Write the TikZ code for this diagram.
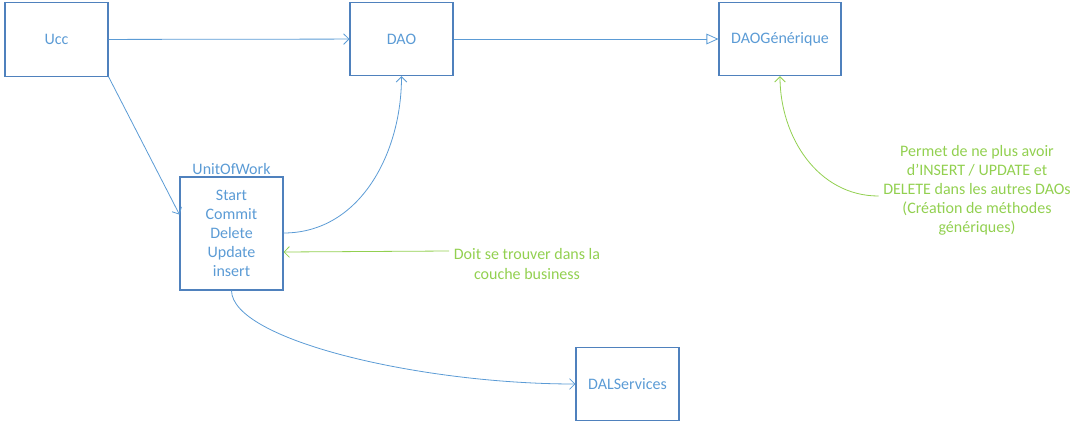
\documentclass[tikz,border=0pt]{standalone}
\usepackage{fontspec}
\setmainfont{Carlito}
\usetikzlibrary{arrows.meta}

\definecolor{boxline}{HTML}{4F81BD}
\definecolor{boxtext}{HTML}{5B9BD5}
\definecolor{notegreen}{HTML}{92D050}

\begin{document}
\begin{tikzpicture}[x=0.75pt,y=-0.75pt,font=\fontsize{12}{14.3}\selectfont,
		box/.style={draw=boxline, thick, text=boxtext, minimum width=77.25pt, minimum height=55pt, inner sep=0pt, align=center},
		link/.style={draw=boxtext, line width=0.6pt, -{Straight Barb[length=4pt,width=8pt]}},
		note/.style={text=notegreen, align=center},
		notelink/.style={draw=notegreen, line width=0.6pt, -{Straight Barb[length=4pt,width=8pt]}}]
		\useasboundingbox (0,0) rectangle (1083,429);
		\node (ucc) [box] at (56.5,39.5) {Ucc};
		\node (dao) [box] at (401.5,39) {DAO};
		\node (daog) [box, minimum width=91.5pt] at (780,39) {DAOGénérique};
		\node (uow) [box, minimum height=84.75pt, label={[text=boxtext, inner sep=1pt]above:UnitOfWork}] at (231.5,233.5) {Start\\Commit\\Delete\\Update\\insert};
		\node (dal) [box] at (627.5,384) {DALServices};
		\node (n1) [note] at (527,264) {Doit se trouver dans la\\couche business};
		\node (n2) [note] at (977,190.5) {Permet de ne plus avoir\\d’INSERT / UPDATE et\\DELETE dans les autres DAOs\\(Création de méthodes\\génériques)};
		\draw [link] (ucc) -> (dao);
		\draw [draw=boxtext, line width=0.6pt, -{Triangle[open,length=9pt,width=8pt]}] (dao) -> (daog);
		\draw [link] (ucc.south east) -> (uow.160);
		\draw [link] (uow.east |- 0,233) to[out=0, in=-90] (dao.south);
		\draw [link] (uow.south) .. controls (232,340) and (420,384) .. (dal.west);
		\draw [notelink] (n1.west |- 0,251) -> (uow.east |- 0,252);
		\draw [notelink] (n2.west |- 0,196) to[out=180, in=-90] (daog.south);
\end{tikzpicture}
\end{document}
